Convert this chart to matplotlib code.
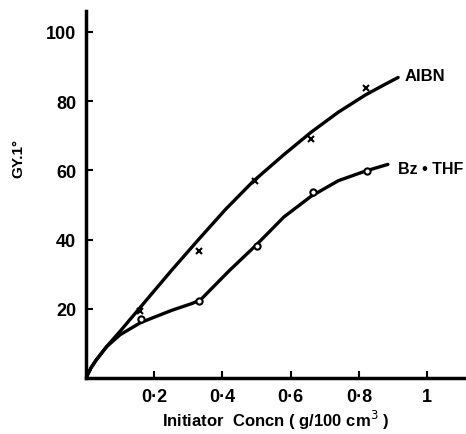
import matplotlib.pyplot as plt

plt.rcParams['font.family'] = ['Liberation Sans', 'DejaVu Sans']

# data
aibn_x = [0.158, 0.332, 0.496, 0.66, 0.82]
aibn_y = [19.4, 36.8, 57, 69, 83.7]
bz_x = [0.161, 0.332, 0.5, 0.665, 0.823]
bz_y = [17, 22.3, 38.2, 53.8, 59.9]

# hand drawn fitted curves (traced points)
aibn_cx = [0, 0.015, 0.03, 0.06, 0.1, 0.16, 0.25, 0.33, 0.41, 0.49, 0.58, 0.66, 0.74, 0.82, 0.88, 0.915]
aibn_cy = [0, 3, 5.2, 9, 13.5, 20.5, 31, 40, 48.8, 56.8, 64.5, 71, 76.8, 81.8, 85, 86.8]
bz_cx = [0, 0.015, 0.03, 0.06, 0.1, 0.16, 0.25, 0.31, 0.335, 0.36, 0.42, 0.5, 0.58, 0.66, 0.74, 0.82, 0.885]
bz_cy = [0, 3, 5.2, 9, 12.5, 16, 19.5, 21.5, 22.5, 25, 31, 38.5, 46.5, 52.5, 57, 59.8, 61.7]

xticks = [0.2, 0.4, 0.6, 0.8, 1]
xticklabels = ["0·2", "0·4", "0·6", "0·8", "1"]
yticks = [20, 40, 60, 80, 100]

fig = plt.figure(figsize=(4.66, 4.35), dpi=100)
ax = fig.add_axes([0.1845, 0.1287, 0.8155, 0.8437])

ax.plot(aibn_cx, aibn_cy, color="black", lw=2.4, solid_capstyle="round")
ax.plot(bz_cx, bz_cy, color="black", lw=2.4, solid_capstyle="round")
ax.plot(aibn_x, aibn_y, "x", color="black", ms=4, mew=1.5)
ax.plot(bz_x, bz_y, "o", color="black", ms=4.5, mew=1.5, mfc="white")

ax.text(0.935, 87.3, "AIBN", fontsize=12, fontweight="bold", va="center", ha="left")
ax.text(0.915, 60.4, "Bz • THF", fontsize=11.5, fontweight="bold", va="center", ha="left")

ax.set_xlim(0, 1.114)
ax.set_ylim(0, 106)
ax.set_xticks(xticks)
ax.set_xticklabels(xticklabels)
ax.set_yticks(yticks)

for s in ["top", "right"]:
    ax.spines[s].set_visible(False)
for s in ["left", "bottom"]:
    ax.spines[s].set_linewidth(2.5)

ax.tick_params(direction="in", length=5, width=1.5, labelsize=13, pad=7)
for lab in ax.get_xticklabels() + ax.get_yticklabels():
    lab.set_fontweight("bold")

ax.set_xlabel("Initiator  Concn ( g/100 cm$^{3}$ )", fontsize=12, fontweight="bold", labelpad=2)
ax.set_ylabel("GY.1°", fontsize=11, fontweight="bold")
ax.yaxis.set_label_coords(-0.16, 0.6)

fig.savefig("out.png", dpi=100)
